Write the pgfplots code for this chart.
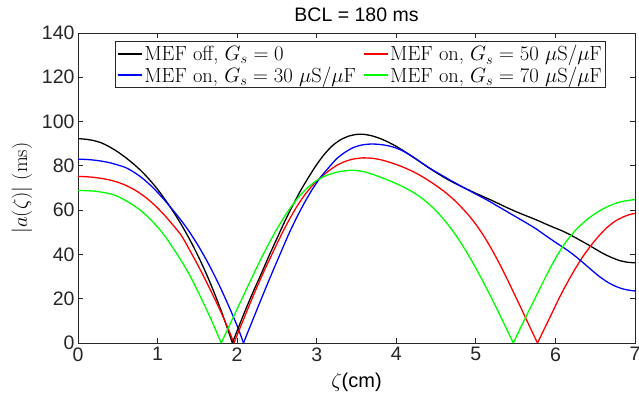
\documentclass[border=0pt]{standalone}
\usepackage{fontspec}
\usepackage{pgfplots}
\pgfplotsset{compat=1.18}
\newfontfamily\helv{Liberation Sans}
\definecolor{axgray}{rgb}{0.15,0.15,0.15}
\pgfplotsset{seg/.style={line width=1.3pt, mark=none, smooth, tension=0.4}}
\begin{document}
\begin{tikzpicture}
\useasboundingbox (-78pt,-61pt) rectangle (561pt,343pt);
\begin{axis}[
  scale only axis,
  width=557pt, height=310pt,
  xmin=0, xmax=7, ymin=0, ymax=140,
  xtick={0,1,...,7}, ytick={0,20,...,140},
  tick align=inside,
  major tick length=5pt,
  axis line style={axgray, line width=0.8pt},
  every tick/.style={axgray, line width=0.8pt},
  /pgf/number format/assume math mode=true,
  tick label style={font=\helv\fontsize{19.5}{22}\selectfont, text=axgray},
  xticklabel style={yshift=-1pt},
  title={\helv\fontsize{19.5}{22}\selectfont BCL = 180 ms},
  title style={at={(axis description cs:0.5,1)}, anchor=south, yshift=2pt},
  xlabel={\fontsize{20}{22}\selectfont$\zeta$\helv(cm)},
  xlabel style={at={(axis description cs:0.5,0)}, anchor=center, yshift=-39pt},
  ylabel={\fontsize{20.5}{22}\selectfont$|a(\zeta)|$ (ms)},
  ylabel style={at={(axis description cs:-0.1005,0.5)}, anchor=center},
  legend columns=2,
  legend cell align=left,
  legend style={at={(0.507,0.974)}, anchor=north, draw=axgray, line width=0.8pt, fill=white,
    font=\fontsize{20.5}{23}\selectfont, inner sep=2pt, row sep=0pt,
    /tikz/every even column/.append style={column sep=5pt}},
  legend image code/.code={\draw[#1, line width=1.3pt] (0pt,0pt) -- (24pt,0pt);},
]
% ---- first segments (with legend entries) ----
\addplot[black, seg] coordinates {
(0,92.3) (0.1,92.0) (0.2,91.4) (0.3,90.3) (0.4,88.5) (0.5,86.3) (0.6,83.7) (0.7,80.8)
(0.8,77.5) (0.9,73.7) (1.0,69.4) (1.1,64.5) (1.2,59.2) (1.3,53.4) (1.4,47.0) (1.5,40.0)
(1.6,32.3) (1.7,23.8) (1.8,14.5) (1.9,4.3) (1.94,0)
};
\addlegendentry{MEF off, $G_s = 0$}
\addplot[red, seg] coordinates {
(0,75.2) (0.1,75.1) (0.2,74.8) (0.3,74.3) (0.4,73.6) (0.5,72.6) (0.6,71.2) (0.7,69.4)
(0.8,67.1) (0.9,64.3) (1.0,61.0) (1.1,57.2) (1.2,53.0) (1.3,48.5) (1.4,42.2) (1.5,35.6)
(1.6,28.6) (1.7,21.3) (1.8,13.7) (1.9,5.4) (1.96,0)
};
\addlegendentry{MEF on, $G_s = 50~\mu\mathrm{S}/\mu\mathrm{F}$}
\addplot[blue, seg] coordinates {
(0,83.0) (0.1,82.9) (0.2,82.6) (0.3,82.1) (0.4,81.4) (0.5,80.4) (0.6,79.2) (0.7,77.2)
(0.8,74.7) (0.9,71.6) (1.0,68.0) (1.1,64.0) (1.2,59.7) (1.3,55.2) (1.4,50.2) (1.5,44.6)
(1.6,38.4) (1.7,31.6) (1.8,24.2) (1.9,16.2) (2.0,7.8) (2.08,0)
};
\addlegendentry{MEF on, $G_s = 30~\mu\mathrm{S}/\mu\mathrm{F}$}
\addplot[green, seg] coordinates {
(0,68.9) (0.1,68.8) (0.2,68.6) (0.3,68.1) (0.4,67.4) (0.5,66.2) (0.6,64.3) (0.7,62.1)
(0.8,59.5) (0.9,56.2) (1.0,52.4) (1.1,47.9) (1.2,42.6) (1.3,37.0) (1.4,30.9) (1.5,23.8)
(1.6,16.3) (1.7,8.4) (1.8,0)
};
\addlegendentry{MEF on, $G_s = 70~\mu\mathrm{S}/\mu\mathrm{F}$}
% ---- remaining segments ----
\addplot[black, seg, forget plot] coordinates {
(1.94,0) (2.00,5.5) (2.10,14.5) (2.20,23) (2.30,31) (2.40,39.3) (2.50,47.2) (2.60,55.0) (2.70,62.2)
(2.80,69.0) (2.90,75.0) (3.00,80.6) (3.10,85.4) (3.20,89.2) (3.30,91.8) (3.40,93.4) (3.50,94.2)
(3.60,94.2) (3.70,93.5) (3.80,92.3) (3.90,90.7) (4.00,88.8) (4.10,86.6) (4.20,84.2) (4.30,81.8)
(4.40,79.3) (4.50,77.0) (4.60,74.8) (4.70,72.8) (4.80,71.0) (4.90,69.3) (5.00,67.6) (5.10,66.0)
(5.20,64.4) (5.30,62.7) (5.40,61.0) (5.50,59.4) (5.60,57.9) (5.70,56.5) (5.80,55.0) (5.90,53.4)
(6.00,51.9) (6.10,50.4) (6.20,48.6) (6.30,46.6) (6.40,44.6) (6.50,42.5) (6.60,40.4) (6.70,38.7)
(6.80,37.3) (6.90,36.5) (7.00,36.2)
};
\addplot[red, seg, forget plot] coordinates {
(1.96,0) (2.05,8.0) (2.15,16.8) (2.25,25.3) (2.35,33.4) (2.45,41.0) (2.55,48.5) (2.65,55.4) (2.75,61.6)
(2.85,66.9) (2.95,71.3) (3.05,74.8) (3.15,77.7) (3.25,80.2) (3.35,81.9) (3.45,83.0) (3.58,83.6)
(3.70,83.4) (3.80,82.8) (3.90,81.8) (4.00,80.6) (4.10,79.2) (4.20,77.6) (4.30,75.7) (4.40,73.5)
(4.50,71.1) (4.60,68.5) (4.70,65.5) (4.80,62.0) (4.90,58.1) (5.00,53.6) (5.10,48.3) (5.20,42.3)
(5.30,35.6) (5.40,28.4) (5.50,20.9) (5.60,13.3) (5.70,5.6) (5.775,0)
};
\addplot[red, seg, forget plot] coordinates {
(5.775,0) (5.85,5.6) (5.95,13.0) (6.05,20.5) (6.15,27.3) (6.25,33.6) (6.35,39.3) (6.45,44.2) (6.55,48.5)
(6.65,52.2) (6.75,55.0) (6.85,56.9) (6.93,58.0) (7.00,58.5)
};
\addplot[blue, seg, forget plot] coordinates {
(2.08,0) (2.15,6.3) (2.25,15.2) (2.35,24.0) (2.45,32.6) (2.55,41.0) (2.65,49.3) (2.75,56.8) (2.85,63.6)
(2.95,69.7) (3.05,74.9) (3.15,79.2) (3.25,83.2) (3.35,86.0) (3.45,88.1) (3.55,89.3) (3.65,89.8)
(3.75,89.8) (3.85,89.4) (3.95,88.6) (4.05,87.3) (4.15,85.4) (4.25,83.1) (4.35,80.6) (4.45,78.3)
(4.55,76.2) (4.65,74.1) (4.75,72.1) (4.85,70.1) (4.95,68.2) (5.05,66.3) (5.15,64.4) (5.25,62.3)
(5.35,60.2) (5.45,58.1) (5.55,56.0) (5.65,53.9) (5.75,51.7) (5.85,49.2) (5.95,46.7) (6.05,44.3)
(6.15,41.9) (6.25,39.2) (6.35,36.2) (6.45,33.1) (6.55,30.1) (6.65,27.6) (6.75,25.7) (6.85,24.4)
(6.93,23.8) (7.00,23.5)
};
\addplot[green, seg, forget plot] coordinates {
(1.80,0) (1.90,7.7) (2.00,15.4) (2.10,23.0) (2.20,30.6) (2.30,38.0) (2.40,45.0) (2.50,51.5) (2.60,57.4)
(2.70,62.6) (2.80,67.0) (2.90,70.6) (3.00,73.4) (3.10,75.3) (3.20,76.6) (3.30,77.5) (3.42,78.0)
(3.50,77.9) (3.60,77.3) (3.70,76.2) (3.80,74.9) (3.90,73.5) (4.00,72.0) (4.10,70.3) (4.20,68.3)
(4.30,66.0) (4.40,63.1) (4.50,59.7) (4.60,55.7) (4.70,51.1) (4.80,45.9) (4.90,40.1) (5.00,33.8)
(5.10,27.1) (5.20,20.1) (5.30,12.8) (5.40,5.3) (5.47,0)
};
\addplot[green, seg, forget plot] coordinates {
(5.47,0) (5.55,6.0) (5.65,13.4) (5.75,20.6) (5.85,27.9) (5.95,34.9) (6.05,41.2) (6.15,46.5) (6.25,50.8)
(6.35,54.3) (6.45,57.2) (6.55,59.6) (6.65,61.5) (6.75,63.0) (6.85,64.0) (7.00,64.8)
};
\end{axis}
\end{tikzpicture}
\end{document}
